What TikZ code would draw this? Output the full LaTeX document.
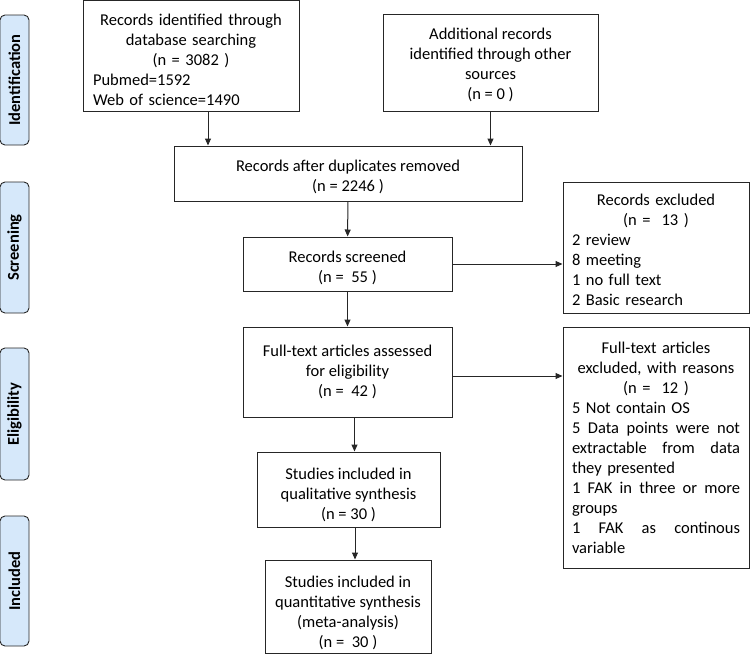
\documentclass[tikz,border=0pt]{standalone}
\usepackage{fontspec}
\setmainfont{Carlito}
\usepackage{tikz}
\usetikzlibrary{arrows.meta,positioning}
\definecolor{stagefill}{RGB}{214,232,250}
\newcommand{\spreadline}[1]{\leavevmode\hbox to 168pt{#1}}
\newcommand{\lowerby}[1]{\rule{0pt}{\dimexpr 12.5pt+2\dimexpr #1\relax\relax}}

\begin{document}
\begin{tikzpicture}[x=1pt,y=-1pt,
    font=\fontsize{16.5}{20}\selectfont,
    box/.style={draw=black!85,line width=1pt,rectangle,inner sep=0pt,align=center},
    stage/.style={draw=black!85,line width=0.9pt,fill=stagefill,rounded corners=5pt,
      rotate=90,minimum height=29pt,inner sep=0pt,font=\fontsize{16.5}{20}\selectfont\bfseries},
    link/.style={->,line width=1pt,draw=black!85},
    >={Triangle[length=7pt,width=6pt]}]
  \useasboundingbox (0,0) rectangle (750,654);
  \node[stage,minimum width=130pt] (s1) at (14.5,80) {Identification};
  \node[stage,minimum width=131pt] (s2) at (14.5,247.5) {Screening};
  \node[stage,minimum width=132pt] (s3) at (14.5,414) {Eligibility};
  \node[stage,minimum width=130pt] (s4) at (14.5,581) {Included};
  \node[box,minimum width=216pt,minimum height=111pt,text width=196pt,align=left] (ident) at (191,55.5)
    {{\centering\lowerby{4pt}Records identified through\\ database searching\\ (n = 3082 )\par}
     Pubmed=1592\\ Web of science=1490};
  \node[box,minimum width=215pt,minimum height=97pt] (other) at (490.5,62.5)
    {\lowerby{2pt}Additional records\\ identified through other\\ sources\\ (n = 0 )};
  \node[box,minimum width=348pt,minimum height=55pt] (dup) at (348,173.5)
    {\lowerby{3pt}Records after duplicates removed\\ (n = 2246 )};
  \node[box,minimum width=209pt,minimum height=54pt] (screen) at (347.5,264)
    {\lowerby{3pt}Records screened\\ (n = \ 55 )};
  \node[box,minimum width=186pt,minimum height=131pt,text width=168pt,align=left] (excl) at (656,247.5)
    {{\centering\lowerby{2pt}Records excluded\\ (n = \ 13 )\par}
     2 review\\ 8 meeting\\ 1 no full text\\ 2 Basic research};
  \node[box,minimum width=209pt,minimum height=90pt] (full) at (347.5,372)
    {Full-text articles assessed\\ for eligibility\\ (n = \ 42 )};
  \node[box,minimum width=186pt,minimum height=241pt,text width=168pt,align=left] (fullex) at (656,447.5)
    {{\centering Full-text articles\\ excluded, with reasons\\ (n = \ 12 )\par}
     5 Not contain OS\\
     \spreadline{5\hfill Data\hfill points\hfill were\hfill not}\\
     \spreadline{extractable\hfill from\hfill data}\\
     they presented\\
     \spreadline{1\hfill FAK\hfill in\hfill three\hfill or\hfill more}\\
     groups\\
     \spreadline{1\hfill FAK\hfill as\hfill continous}\\
     variable};
  \node[box,minimum width=183pt,minimum height=75pt] (qual) at (348.5,489.5)
    {\lowerby{5pt}Studies included in\\ qualitative synthesis\\ (n = 30 )};
  \node[box,minimum width=166pt,minimum height=93pt] (quant) at (348,606.5)
    {\lowerby{6pt}Studies included in\\ quantitative synthesis\\ (meta-analysis)\\ (n = \ 30 )};
  \draw[link] ([xshift=17pt]ident.south) -- ([xshift=17pt]ident.south |- dup.north);
  \draw[link] (other.south) -- (other.south |- dup.north);
  \draw[link] (dup) -- (screen);
  \draw[link] (screen.east) -- (screen.east -| excl.west);
  \draw[link] (screen) -- (full);
  \draw[link] ([yshift=-4pt]full.east) -- ([yshift=-4pt]full.east -| fullex.west);
  \draw[link] ([xshift=7pt]full.south) -- ([xshift=7pt]full.south |- qual.north);
  \draw[link] ([xshift=6.5pt]qual.south) -- ([xshift=6.5pt]qual.south |- quant.north);
\end{tikzpicture}
\end{document}
